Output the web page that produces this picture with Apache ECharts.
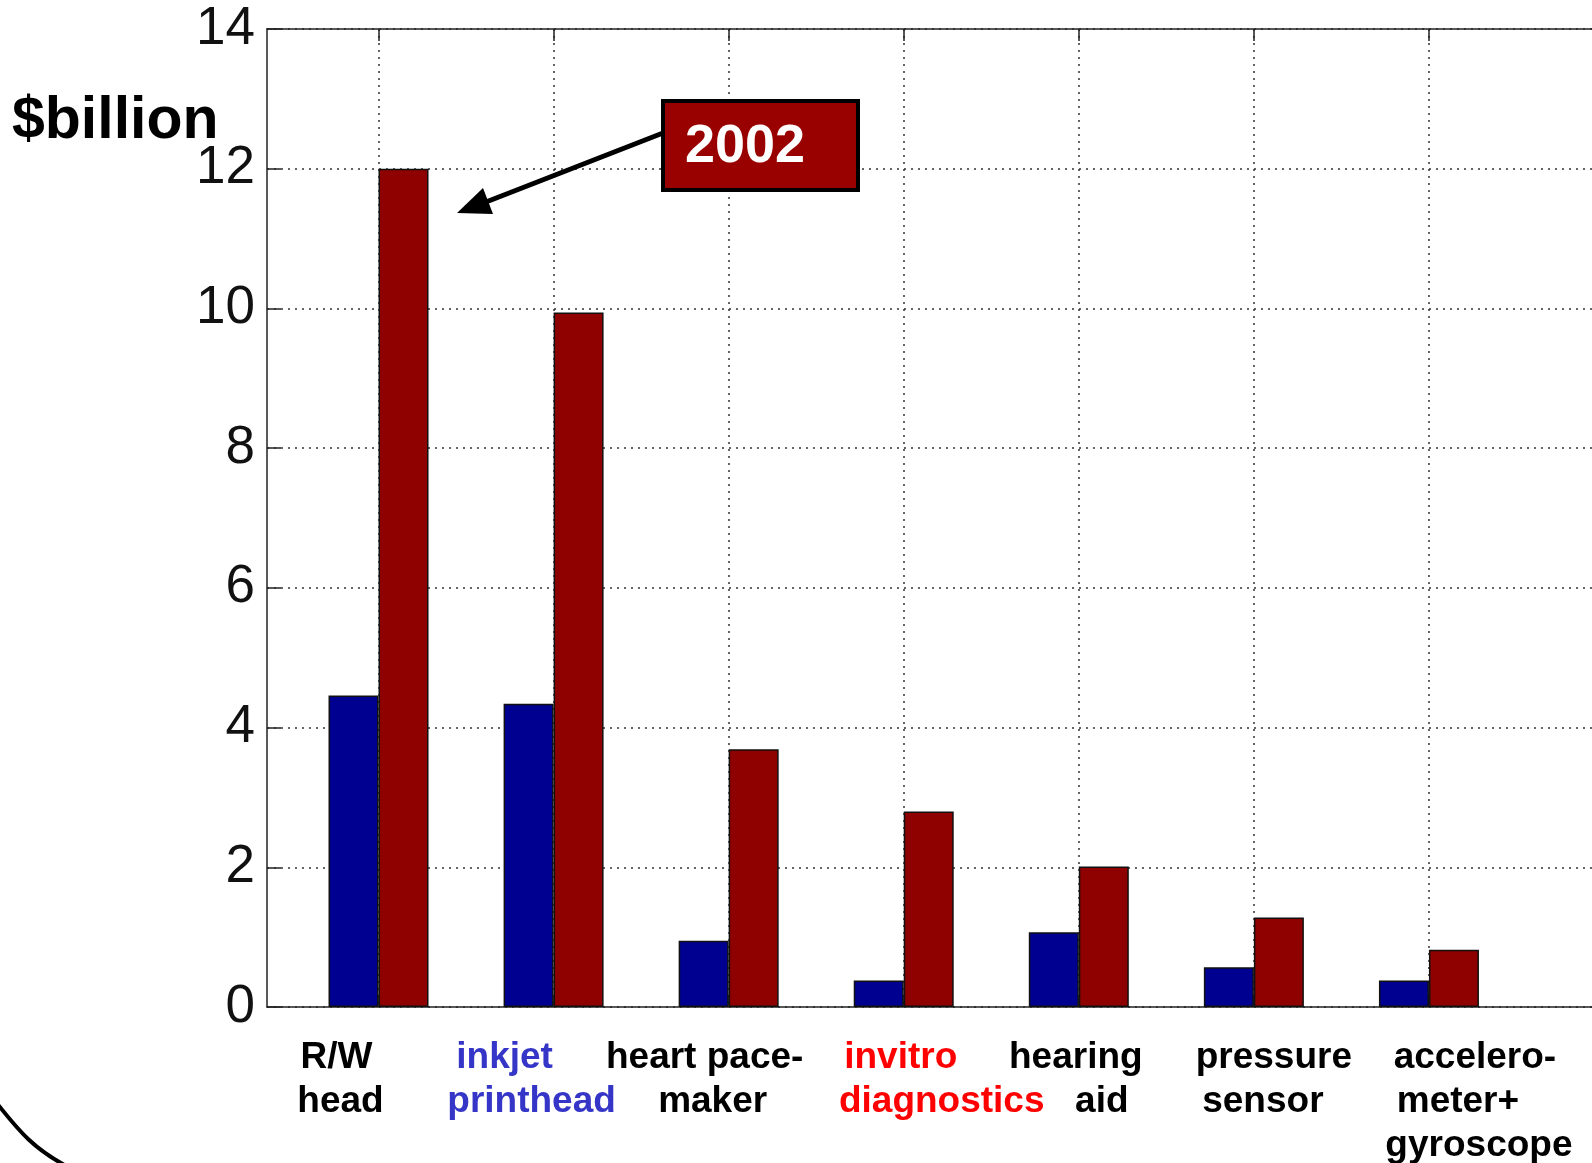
<!DOCTYPE html>
<html style="height: 100%">

<head>
  <meta charset="utf-8">
  <title>MEMS market</title>
</head>

<body style="height: 100%; margin: 0; background: #fff">
  <div id="container" style="width: 1592px; height: 1163px"></div>
  <script type="text/javascript" src="https://cdn.jsdelivr.net/npm/echarts@6/dist/echarts.min.js"></script>
  <script type="text/javascript">
    // data
    const categoryLines = [
      ['R/W', 'head'],
      ['inkjet', 'printhead'],
      ['heart pace-', 'maker'],
      ['invitro', 'diagnostics'],
      ['hearing', 'aid'],
      ['pressure', 'sensor'],
      ['accelero-', 'meter+', 'gyroscope']
    ];
    const categoryPos = [1, 2, 3, 4, 5, 6, 7];
    const valuesEarlier = [4.46, 4.34, 0.95, 0.38, 1.07, 0.57, 0.38];
    const values2002 = [12.0, 9.94, 3.69, 2.80, 2.01, 1.28, 0.82];
    const yMin = 0, yMax = 14, yStep = 2;

    // label look
    const labelColors = ['#000', '#3535c8', '#000', '#ff0000', '#000', '#000', '#000'];
    // horizontal shift of each label line from its tick (px)
    const labelShift = [
      [-42, -38],
      [-49, -22],
      [-24, -16],
      [-3, 38],
      [-3, 23],
      [20, 9],
      [46, 29, 50]
    ];
    const FONT = "'Liberation Sans', Arial, Helvetica, sans-serif";
    const X_MIN = 0.363, X_MAX = 8;

    const rich = {};
    categoryLines.forEach((lines, i) => {
      lines.forEach((t, j) => {
        const dx = labelShift[i][j];
        rich['l' + i + '_' + j] = {
          color: labelColors[i],
          fontSize: 37,
          fontWeight: 'bold',
          fontFamily: FONT,
          lineHeight: 44,
          align: 'center',
          padding: [0, dx < 0 ? -2 * dx : 0, 0, dx > 0 ? 2 * dx : 0]
        };
      });
    });

    const dotted = { color: '#333', width: 1.5, type: [2, 5] };
    const axisStroke = { color: '#222', width: 1.5 };

    // labels go on two stacked bottom axes (odd / even) so that ECharts
    // doesn't drop any of them for overlapping
    function labelSettings(positions) {
      return {
        show: true,
        customValues: positions,
        showMinLabel: true,
        showMaxLabel: true,
        hideOverlap: false,
        margin: 29,
        color: '#000',
        formatter: function (value) {
          const i = Math.round(value) - 1;
          if (!categoryLines[i]) return '';
          return categoryLines[i].map((t, j) => '{l' + i + '_' + j + '|' + t + '}').join('\n');
        },
        rich: rich
      };
    }

    let myChart = echarts.init(document.getElementById('container'));

    let option = {
      backgroundColor: '#fff',
      animation: false,
      title: {
        text: '$billion',
        left: 12,
        top: 92,
        padding: 0,
        textStyle: { fontSize: 59, fontWeight: 'bold', color: '#000', fontFamily: FONT }
      },
      grid: {
        left: 267,
        top: 29,
        right: -12,
        bottom: 156,
        outerBoundsMode: 'none',
        containLabel: false
      },
      xAxis: [
        {
          type: 'value',
          position: 'bottom',
          min: X_MIN,
          max: X_MAX,
          axisLine: { show: true, lineStyle: axisStroke },
          axisTick: { show: true, inside: true, length: 12, customValues: categoryPos, lineStyle: axisStroke },
          axisLabel: labelSettings(categoryPos.filter(p => p % 2 === 1)),
          splitLine: { show: true, lineStyle: dotted }
        },
        {
          type: 'value',
          position: 'top',
          min: X_MIN,
          max: X_MAX,
          axisLine: { show: true, lineStyle: axisStroke },
          axisTick: { show: true, inside: true, length: 12, customValues: categoryPos, lineStyle: axisStroke },
          axisLabel: { show: false },
          splitLine: { show: false }
        },
        {
          type: 'value',
          position: 'bottom',
          min: X_MIN,
          max: X_MAX,
          axisLine: { show: false },
          axisTick: { show: false },
          axisLabel: labelSettings(categoryPos.filter(p => p % 2 === 0)),
          splitLine: { show: false }
        }
      ],
      yAxis: {
        type: 'value',
        min: yMin,
        max: yMax,
        interval: yStep,
        axisLine: { show: true, lineStyle: axisStroke },
        axisTick: { show: true, inside: true, length: 14, lineStyle: axisStroke },
        axisLabel: { fontSize: 53, color: '#111', margin: 12, fontFamily: FONT },
        splitLine: { show: true, lineStyle: dotted }
      },
      series: [
        {
          type: 'bar',
          name: 'earlier',
          xAxisIndex: 0,
          barWidth: 50,
          barGap: '0%',
          data: categoryPos.map((x, i) => [x, valuesEarlier[i]]),
          itemStyle: { color: '#000090', borderColor: '#111', borderWidth: 1.5 }
        },
        {
          type: 'bar',
          name: '2002',
          xAxisIndex: 0,
          barWidth: 50,
          barGap: '0%',
          data: categoryPos.map((x, i) => [x, values2002[i]]),
          itemStyle: { color: '#8f0000', borderColor: '#111', borderWidth: 1.5 }
        }
      ],
      graphic: [
        // call-out arrow
        {
          type: 'line',
          shape: { x1: 663, y1: 133, x2: 486, y2: 202 },
          style: { stroke: '#000', lineWidth: 5 },
          z: 10
        },
        {
          type: 'polygon',
          shape: { points: [[457, 213], [493, 214], [483, 188]] },
          style: { fill: '#000' },
          z: 10
        },
        // year box
        {
          type: 'rect',
          shape: { x: 663, y: 101, width: 195, height: 89 },
          style: { fill: '#990000', stroke: '#000', lineWidth: 4 },
          z: 10
        },
        {
          type: 'text',
          x: 745,
          y: 147,
          style: {
            text: '2002',
            fill: '#fff',
            font: "bold 54px 'Liberation Sans', Arial, sans-serif",
            align: 'center',
            verticalAlign: 'middle'
          },
          z: 11
        },
        // slide outline fragment, bottom left
        {
          type: 'bezierCurve',
          shape: { x1: -8, y1: 1097, cpx1: 20, cpy1: 1133, cpx2: 35, cpy2: 1150, x2: 70, y2: 1168 },
          style: { stroke: '#000', lineWidth: 4, fill: null },
          z: 10
        }
      ]
    };

    myChart.setOption(option);
  </script>
</body>

</html>
